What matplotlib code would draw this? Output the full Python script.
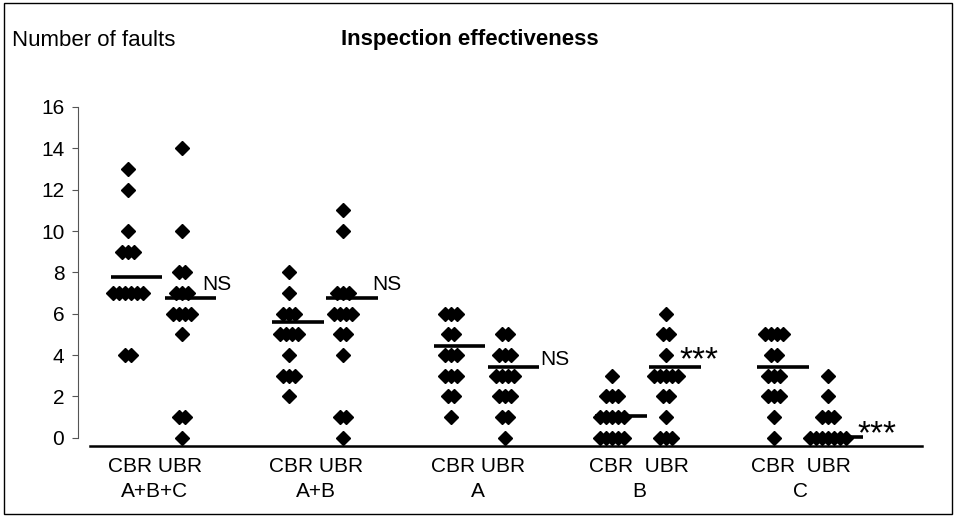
import matplotlib
matplotlib.use("Agg")
import matplotlib.pyplot as plt
from matplotlib.patches import Rectangle
import numpy as np

plt.rcParams['font.family'] = ['Liberation Sans', 'DejaVu Sans']

# data
groups = ["A+B+C", "A+B", "A", "B", "C"]
cbr_abc = [13, 12, 10, 9, 9, 9, 7, 7, 7, 7, 7, 7, 4, 4]
ubr_abc = [14, 10, 8, 8, 7, 7, 7, 6, 6, 6, 6, 5, 1, 1, 0]
cbr_ab = [8, 7, 6, 6, 6, 5, 5, 5, 5, 4, 3, 3, 3, 2]
ubr_ab = [11, 10, 7, 7, 7, 6, 6, 6, 6, 5, 5, 4, 1, 1, 0]
cbr_a = [6, 6, 6, 5, 5, 4, 4, 4, 3, 3, 3, 2, 2, 1]
ubr_a = [5, 5, 4, 4, 4, 3, 3, 3, 3, 2, 2, 2, 1, 1, 0]
cbr_b = [3, 2, 2, 2, 1, 1, 1, 1, 1, 0, 0, 0, 0, 0]
ubr_b = [6, 5, 5, 4, 3, 3, 3, 3, 3, 2, 2, 1, 0, 0, 0]
cbr_c = [5, 5, 5, 5, 4, 4, 3, 3, 3, 2, 2, 2, 1, 0]
ubr_c = [3, 2, 1, 1, 1, 0, 0, 0, 0, 0, 0, 0]
cbr_mean = [7.8, 5.6, 4.45, 1.07, 3.4]
ubr_mean = [6.76, 6.76, 3.4, 3.4, 0.05]
tests = ["NS", "NS", "NS", "***", "***"]

cbr_all = [cbr_abc, cbr_ab, cbr_a, cbr_b, cbr_c]
ubr_all = [ubr_abc, ubr_ab, ubr_a, ubr_b, ubr_c]

# layout
col_off = 0.167      # CBR / UBR distance from group centre
step = 0.037         # horizontal spread of tied points
note_dx = [0.13, 0.18, 0.217, 0.08, 0.186]
note_dy = [0.63, 0.66, 0.37, 0.49, 0.24]


def spread(values, centre):
    xs, ys = [], []
    vals, counts = np.unique(values, return_counts=True)
    for v, n in zip(vals, counts):
        for k in range(n):
            xs.append(centre + (k - (n - 1) / 2) * step)
            ys.append(v)
    return xs, ys


fig = plt.figure(figsize=(9.57, 5.17), dpi=100)
ax = fig.add_axes([90 / 957, 1 - 446 / 517, 832 / 957, 339 / 517])

for i in range(len(groups)):
    for j, (vals, mean) in enumerate([(cbr_all[i], cbr_mean[i]), (ubr_all[i], ubr_mean[i])]):
        c = i - col_off if j == 0 else i + col_off
        xs, ys = spread(vals, c)
        ax.plot(xs, ys, linestyle="none", marker="D", markersize=7.6,
                color="black", zorder=3)
        ax.plot([c - 0.105, c + 0.215], [mean, mean], color="black",
                linewidth=2.6, solid_capstyle="butt", zorder=2)
    if tests[i] == "NS":
        ax.text(i + col_off + note_dx[i], ubr_mean[i] + note_dy[i], tests[i],
                fontsize=15, ha="left", va="center")
    else:
        ax.text(i + col_off + note_dx[i], ubr_mean[i] + note_dy[i], tests[i],
                fontsize=24, ha="left", va="center_baseline")

ax.set_xlim(-0.40, 4.75)
ax.set_ylim(-0.4, 16)
ax.set_yticks(np.arange(0, 17, 2))
ax.set_xticks(range(len(groups)))
ax.set_xticklabels([("CBR UBR" if i < 3 else "CBR  UBR") + "\n" + g
                    for i, g in enumerate(groups)], fontsize=15, linespacing=1.42)
ax.tick_params(axis="x", length=0, pad=8)
ax.tick_params(axis="y", labelsize=15, length=4, width=0.8, color="#555555", pad=6)

for s in ["top", "right"]:
    ax.spines[s].set_visible(False)
ax.spines["left"].set_position(("outward", 8.5))
ax.spines["left"].set_bounds(0, 16)
ax.spines["left"].set_color("#555555")
ax.spines["left"].set_linewidth(0.8)
ax.spines["bottom"].set_linewidth(1.8)

fig.text(12 / 957, 1 - 40 / 517, "Number of faults", fontsize=16,
         ha="left", va="center")
fig.text(470 / 957, 1 - 40 / 517, "Inspection effectiveness", fontsize=16,
         fontweight="bold", ha="center", va="center")

fig.patches.append(Rectangle((0.004, 0.006), 0.991, 0.988, transform=fig.transFigure,
                             fill=False, edgecolor="black", linewidth=1))

fig.savefig("out.png", dpi=100)
